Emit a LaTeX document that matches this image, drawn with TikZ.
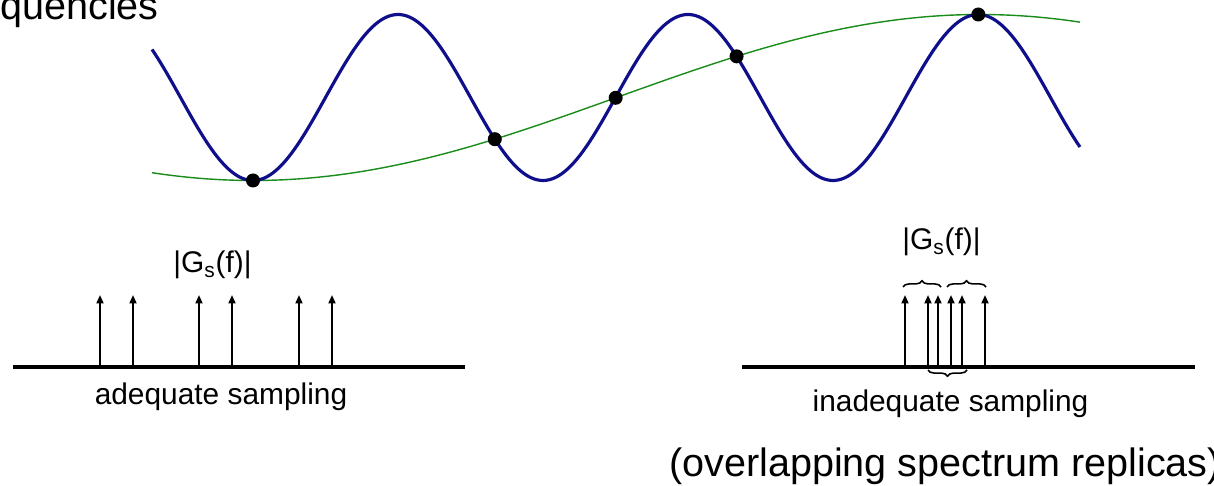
\documentclass[tikz,border=0pt]{standalone}
\usepackage{fontspec}
\setmainfont{Liberation Sans}
\usetikzlibrary{arrows.meta,decorations.pathreplacing}

\definecolor{navywave}{RGB}{15,15,140}
\definecolor{aliasgreen}{RGB}{25,140,25}

\begin{document}
\begin{tikzpicture}[
  lbl/.style={font=\fontsize{17}{20}\selectfont, inner sep=0pt},
  big/.style={font=\fontsize{22.5}{27}\selectfont, inner sep=0pt},
  fast/.style={draw=navywave, line width=1.8pt},
  slow/.style={draw=aliasgreen, line width=0.8pt},
  sample/.style={circle, fill=black, inner sep=0pt, minimum size=2.8mm},
  axis/.style={draw=black, line width=2pt},
  impulse/.style={-{Triangle[length=1.7mm,width=1.4mm]}, draw=black, line width=1.1pt},
  grp/.style={decorate, decoration={brace, amplitude=3.5pt}, draw=black, line width=0.9pt}
]
\useasboundingbox (0,0) rectangle (24.28,9.7);

% signal and its alias
\draw[slow] plot[domain=3.04:21.6, samples=150] (\x, {7.75-1.66*cos(180*(\x-5.06)/14.54)});
\draw[fast] plot[domain=3.04:21.6, samples=300] (\x, {7.75-1.66*cos(360*(\x-5.06)/5.8)});
\foreach \k [count=\i] in {0,1,1.5,2,3}
  \node[sample] (s\i) at ({5.06+\k*4.8356}, {7.75-1.66*cos(\k*59.86)}) {};

\node[big, anchor=base west] (head) at (0,9.3) {quencies};

% adequate sampling
\coordinate (ll) at (0.26,2.36);
\coordinate (lr) at (9.3,2.36);
\draw[axis] (ll) -- (lr);
\foreach \x [count=\i] in {2.0,2.66,3.98,4.64,5.98,6.64} {
  \coordinate (ab\i) at (\x,2.36);
  \coordinate (at\i) at (\x,3.8);
  \draw[impulse] (ab\i) -- (at\i);
}
\node[lbl] (gl) at (4.25,4.4) {|G\textsubscript{s}(f)|};
\node[lbl, anchor=base] (adq) at (4.42,1.6) {adequate sampling};

% inadequate sampling
\coordinate (rl) at (14.84,2.36);
\coordinate (rr) at (23.9,2.36);
\draw[axis] (rl) -- (rr);
\foreach \x [count=\i] in {18.1,18.56,18.76,19.02,19.24,19.7} {
  \coordinate (rb\i) at (\x,2.36);
  \coordinate (rt\i) at (\x,3.8);
  \draw[impulse] (rb\i) -- (rt\i);
}
\draw[grp] ([xshift=-0.04cm,yshift=0.16cm]rt1) -- ([xshift=0.06cm,yshift=0.16cm]rt3);
\draw[grp] ([xshift=-0.08cm,yshift=0.16cm]rt4) -- ([xshift=0.02cm,yshift=0.16cm]rt6);
\draw[grp] ([xshift=0.1cm,yshift=-0.06cm]rb5) -- ([yshift=-0.06cm]rb2);
\node[lbl] (gr) at (18.83,4.86) {|G\textsubscript{s}(f)|};
\node[lbl, anchor=base] (inadq) at (19.01,1.46) {inadequate sampling};

\node[big, anchor=base west] (note) at (13.38,0.18) {(overlapping spectrum replicas)};
\end{tikzpicture}
\end{document}
